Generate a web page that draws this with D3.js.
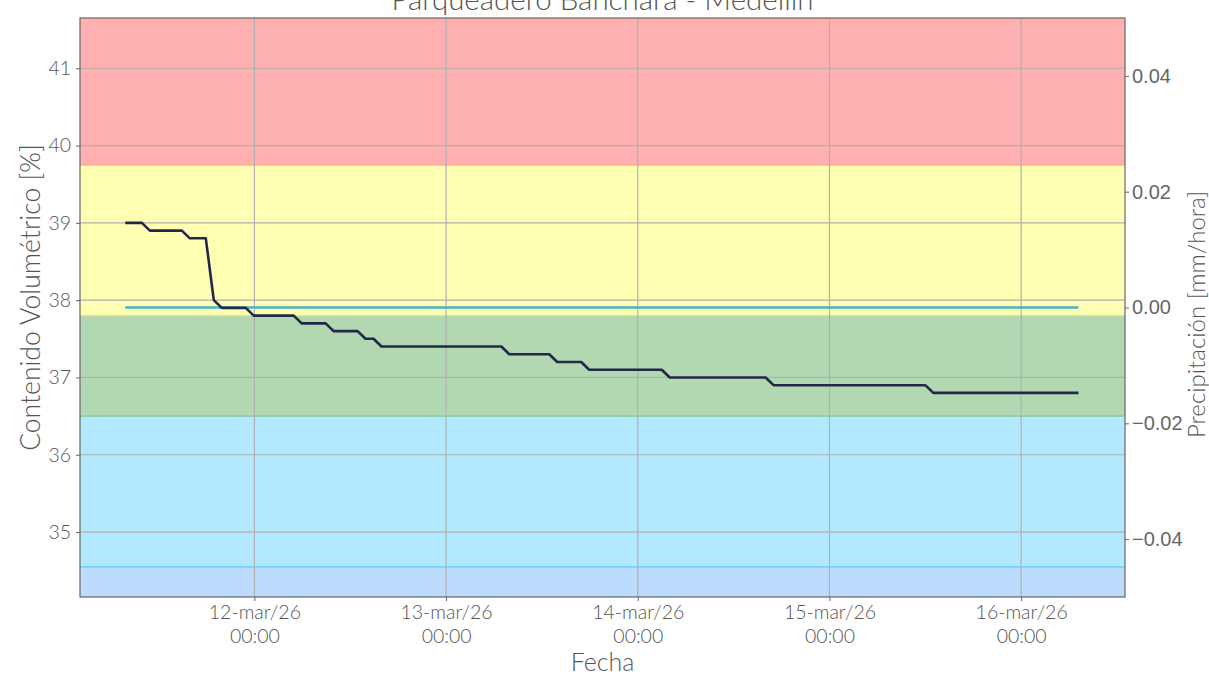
<!DOCTYPE html>
<html>
<head>
<meta charset="utf-8">
<script src="https://cdn.jsdelivr.net/npm/d3@7"></script>
<style>
  html, body { margin: 0; padding: 0; background: #fff; }
  svg { display: block; }
</style>
</head>
<body>
<svg id="chart" width="1209" height="677"></svg>
<script>
// ---- Data ----
const title = "Parqueadero Banchara - Medellín";
const yLabel = "Contenido Volumétrico [%]";
const y2Label = "Precipitación [mm/hora]";
const xLabel = "Fecha";

const times = [
  "2026-03-11T07:50", "2026-03-11T09:55", "2026-03-11T10:55", "2026-03-11T14:55",
  "2026-03-11T15:55", "2026-03-11T17:55", "2026-03-11T18:55", "2026-03-11T19:55",
  "2026-03-11T22:55", "2026-03-11T23:55", "2026-03-12T04:55", "2026-03-12T05:55",
  "2026-03-12T08:55", "2026-03-12T09:55", "2026-03-12T12:55", "2026-03-12T13:55",
  "2026-03-12T14:55", "2026-03-12T15:55", "2026-03-13T06:55", "2026-03-13T07:55",
  "2026-03-13T12:55", "2026-03-13T13:55", "2026-03-13T16:55", "2026-03-13T17:55",
  "2026-03-14T03:00", "2026-03-14T04:00", "2026-03-14T16:00", "2026-03-14T17:00",
  "2026-03-15T12:00", "2026-03-15T13:00", "2026-03-16T07:10"
];
const humedad = [
  39.0, 39.0, 38.9, 38.9,
  38.8, 38.8, 38.0, 37.9,
  37.9, 37.8, 37.8, 37.7,
  37.7, 37.6, 37.6, 37.5,
  37.5, 37.4, 37.4, 37.3,
  37.3, 37.2, 37.2, 37.1,
  37.1, 37.0, 37.0, 36.9,
  36.9, 36.8, 36.8
];
const precipTimes = ["2026-03-11T07:50", "2026-03-16T07:10"];
const precipitacion = [0, 0];

// threshold bands [from, to] in % and colours
const bandLimits = [[39.75, 41.65], [37.8, 39.75], [36.5, 37.8], [34.55, 36.5], [34.16, 34.55]];
const bandFill = ["#ffb0b0", "#ffffb3", "#b2d8b2", "#b3e9ff", "#bcdbfd"];
const bandEdge = ["#ff9e80", "#e4e67a", "#7ec89c", "#5ccaf2", "#8cc0f5"];

const xTicks = ["2026-03-12T00:00", "2026-03-13T00:00", "2026-03-14T00:00", "2026-03-15T00:00", "2026-03-16T00:00"];
const yTicks = [35, 36, 37, 38, 39, 40, 41];
const y2Ticks = [-0.04, -0.02, 0.00, 0.02, 0.04];
const meses = ["ene","feb","mar","abr","may","jun","jul","ago","sep","oct","nov","dic"];

// ---- Layout ----
const svg = d3.select("#chart");
const L = 80, R = 1125, T = 18, B = 597;
const parse = d3.timeParse("%Y-%m-%dT%H:%M");

const x = d3.scaleTime()
  .domain([parse("2026-03-11T02:10"), parse("2026-03-16T13:00")])
  .range([L, R]);
const y = d3.scaleLinear().domain([34.16, 41.65]).range([B, T]);
const y2 = d3.scaleLinear().domain([-0.05, 0.05]).range([B, T]);

const mainFont = "Lato, 'Open Sans', sans-serif";
const lightW = 300;

// bands
svg.append("g").selectAll("rect").data(bandLimits).join("rect")
  .attr("x", L).attr("width", R - L)
  .attr("y", d => y(d[1])).attr("height", d => y(d[0]) - y(d[1]))
  .attr("fill", (d, i) => bandFill[i]);
svg.append("g").selectAll("line").data(bandLimits.slice(0, 4)).join("line")
  .attr("x1", L).attr("x2", R)
  .attr("y1", d => y(d[0])).attr("y2", d => y(d[0]))
  .attr("stroke", (d, i) => bandEdge[i]).attr("stroke-width", 1.3);

// grid
const xTickDates = xTicks.map(parse);
svg.append("g").selectAll("line").data(xTickDates).join("line")
  .attr("x1", d => x(d)).attr("x2", d => x(d)).attr("y1", T).attr("y2", B)
  .attr("stroke", "#b0b0b0").attr("stroke-width", 1.2);
svg.append("g").selectAll("line").data(yTicks).join("line")
  .attr("x1", L).attr("x2", R).attr("y1", d => y(d)).attr("y2", d => y(d))
  .attr("stroke", "#b0b0b0").attr("stroke-width", 1.2);

// precipitation line
const pData = precipTimes.map((t, i) => ({ t: parse(t), v: precipitacion[i] }));
svg.append("path").datum(pData)
  .attr("fill", "none").attr("stroke", "#47b3c4").attr("stroke-width", 2.6)
  .attr("d", d3.line().x(d => x(d.t)).y(d => y2(d.v)));

// humidity line
const hData = times.map((t, i) => ({ t: parse(t), v: humedad[i] }));
svg.append("path").datum(hData)
  .attr("fill", "none").attr("stroke", "#24274b").attr("stroke-width", 2.6)
  .attr("stroke-linejoin", "round")
  .attr("d", d3.line().x(d => x(d.t)).y(d => y(d.v)));

// frame
svg.append("rect").attr("x", L).attr("y", T).attr("width", R - L).attr("height", B - T)
  .attr("fill", "none").attr("stroke", "#666").attr("stroke-width", 1.2);

// axes
const fmtX = d => `${d.getDate()}-${meses[d.getMonth()]}/${String(d.getFullYear()).slice(2)}`;
const gx = svg.append("g").attr("transform", `translate(0,${B})`)
  .call(d3.axisBottom(x).tickValues(xTickDates).tickSize(4).tickFormat(""));
gx.select(".domain").remove();
gx.selectAll(".tick line").attr("stroke", "#666");
gx.selectAll(".tick").each(function(d) {
  const t = d3.select(this).append("text").attr("fill", "#555")
    .attr("font-family", mainFont).attr("font-weight", lightW).attr("font-size", 19.5).attr("text-anchor", "middle");
  t.append("tspan").attr("x", 0).attr("y", 22).text(fmtX(d));
  t.append("tspan").attr("x", 0).attr("y", 46).text(d3.timeFormat("%H:%M")(d));
});

const gy = svg.append("g").attr("transform", `translate(${L},0)`)
  .call(d3.axisLeft(y).tickValues(yTicks).tickSize(4).tickPadding(5).tickFormat(d3.format("d")));
gy.select(".domain").remove();
gy.selectAll(".tick line").attr("stroke", "#666");
gy.selectAll(".tick text").attr("fill", "#555").attr("font-family", mainFont)
  .attr("font-weight", lightW).attr("font-size", 19.5);

const gy2 = svg.append("g").attr("transform", `translate(${R},0)`)
  .call(d3.axisRight(y2).tickValues(y2Ticks).tickSize(4).tickPadding(3)
    .tickFormat(d => d3.format(".2f")(d).replace("-", "\u2212")));
gy2.select(".domain").remove();
gy2.selectAll(".tick line").attr("stroke", "#666");
gy2.selectAll(".tick text").attr("fill", "#666").attr("font-family", "'Liberation Sans', Arial, sans-serif").attr("font-size", 20);

// labels
svg.append("text").attr("x", (L + R) / 2).attr("y", 10).attr("text-anchor", "middle")
  .attr("fill", "#555").attr("font-family", mainFont).attr("font-weight", lightW)
  .attr("font-size", 29.5).text(title);
svg.append("text").attr("transform", `translate(40,${(T + B) / 2 - 10}) rotate(-90)`)
  .attr("text-anchor", "middle").attr("fill", "#555").attr("font-family", mainFont)
  .attr("font-weight", lightW).attr("font-size", 26.5).text(yLabel);
svg.append("text").attr("transform", `translate(1205,${(T + B) / 2 + 7}) rotate(-90)`)
  .attr("text-anchor", "middle").attr("fill", "#555").attr("font-family", mainFont)
  .attr("font-weight", lightW).attr("font-size", 24).text(y2Label);
svg.append("text").attr("x", (L + R) / 2).attr("y", 671).attr("text-anchor", "middle")
  .attr("fill", "#555").attr("font-family", mainFont).attr("font-weight", lightW)
  .attr("font-size", 25).text(xLabel);
</script>
</body>
</html>
